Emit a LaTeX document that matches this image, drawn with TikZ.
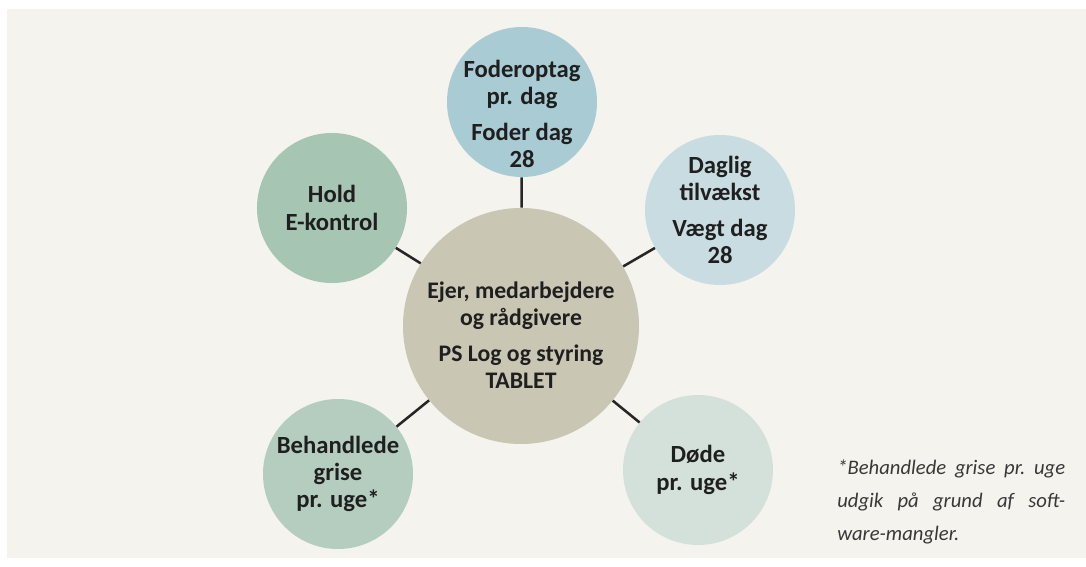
\documentclass[tikz,border=0pt]{standalone}
\usepackage{fontspec}
\setmainfont{Carlito}
\definecolor{paper}{HTML}{F4F3EE}
\definecolor{hubgrey}{HTML}{C9C6B3}
\definecolor{foderblue}{HTML}{A9CBD3}
\definecolor{vaegtblue}{HTML}{C8DCE2}
\definecolor{holdgreen}{HTML}{A6C5B3}
\definecolor{behgreen}{HTML}{B5CDBF}
\definecolor{doedegreen}{HTML}{D3E1DA}
\begin{document}
\begin{tikzpicture}[x={(.75pt,0pt)},y={(0pt,-.75pt)},
    ball/.style={circle,inner sep=0pt,minimum size=112.5pt},
    balltext/.style={inner sep=0pt,align=center,text=black!88,
      font=\bfseries\fontsize{18.5}{20.5}\selectfont},
    spoke/.style={line width=1.9pt,black!85}]
      \useasboundingbox (0,0) rectangle (1086,567);
      \fill[white] (0,0) rectangle (1086,567);
      \fill[paper] (7,9) rectangle (1086,558);

      \node[ball,fill=hubgrey,minimum size=177pt] (hub) at (521,326) {};
      \node[ball,fill=foderblue] (foder) at (522,102) {};
      \node[ball,fill=vaegtblue] (vaegt) at (720,210) {};
      \node[ball,fill=holdgreen] (hold) at (332,208) {};
      \node[ball,fill=behgreen] (behandl) at (338,474) {};
      \node[ball,fill=doedegreen] (doede) at (698,470) {};

      \node[balltext,font=\bfseries\fontsize{17.8}{20.5}\selectfont,yshift=-7pt] (hubtext) at (hub)
        {Ejer, medarbejdere\\og rådgivere\\[6pt]PS Log og styring\\TABLET};
      \node[balltext,yshift=-9pt] (fodertext) at (foder) {Foderoptag\\pr. dag\\[6pt]Foder dag\\28};
      \node[balltext] (vaegttext) at (vaegt) {Daglig\\tilvækst\\[6pt]Vægt dag\\28};
      \node[balltext] (holdtext) at (hold) {Hold\\E-kontrol};
      \node[balltext] (behandltext) at (behandl) {Behandlede\\grise\\pr. uge*};
      \node[balltext] (doedetext) at (doede) {Døde\\pr. uge*};

      \foreach \ball in {foder,vaegt,hold,behandl,doede}
        \draw[spoke] (hub) -- (\ball);

      \node[anchor=north west,inner sep=0pt,text width=171pt,align=left,
        font=\itshape\fontsize{15.5}{24.5}\selectfont,text=black!78] (note) at (837,460)
        {\makebox[171pt]{*Behandlede\hfill grise\hfill pr.\hfill uge}\\
         \makebox[171pt]{udgik\hfill på\hfill grund\hfill af\hfill soft-}\\
         ware-mangler.};
    \end{tikzpicture}
\end{document}
